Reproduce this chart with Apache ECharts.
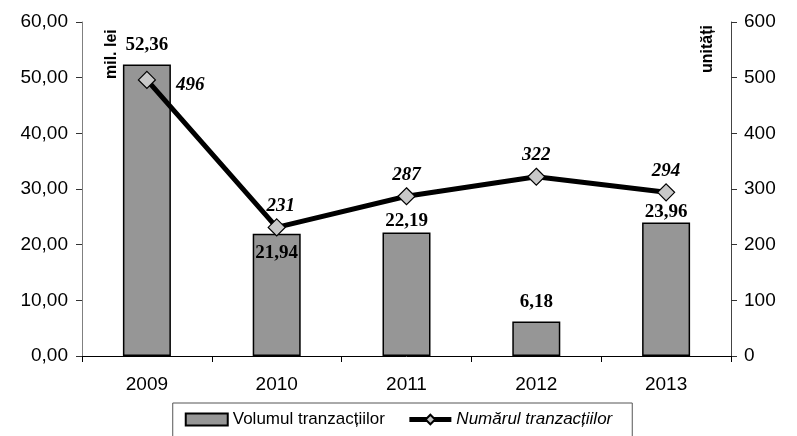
<!DOCTYPE html>
<html>
<head>
<meta charset="utf-8">
<script src="https://cdn.jsdelivr.net/npm/echarts@6/dist/echarts.min.js"></script>
<style>
  html, body { margin: 0; padding: 0; background: #fff; }
  #chart { width: 797px; height: 436px; }
</style>
</head>
<body>
<div id="chart"></div>
<script>
var years = ['2009', '2010', '2011', '2012', '2013'];
var volum = [52.36, 21.94, 22.19, 6.18, 23.96];
var numar = [496, 231, 287, 322, 294];

var fmt = function (v) { return v.toFixed(2).replace('.', ','); };

var chart = echarts.init(document.getElementById('chart'), null, { renderer: 'canvas' });

// pozitia etichetelor, ca in original
var barLabel = [
  { distance: 10 },
  { position: 'insideTop', distance: 10 },
  { distance: 2 },
  { distance: 10 },
  { distance: 1 }
];
var lineLabel = [
  { position: 'right', distance: 20, offset: [0, 5] },
  { offset: [4, 0] },
  {}, {}, {}
];
var volumData = volum.map(function (v, i) { return { value: v, label: barLabel[i] }; });
var numarData = numar.map(function (v, i) { return { value: v, label: lineLabel[i] }; });

chart.setOption({
  animation: false,
  backgroundColor: '#fff',
  grid: { left: 82, right: 66, top: 22, bottom: 80 },
  legend: {
    bottom: -4,
    left: 'center',
    padding: [8, 20, 12, 12],
    itemGap: 22,
    itemWidth: 42,
    itemHeight: 12,
    borderColor: '#555',
    borderWidth: 1,
    borderRadius: 0,
    textStyle: { fontFamily: 'Liberation Sans', fontSize: 17, color: '#000' },
    data: [
      { name: 'Volumul tranzacțiilor', icon: 'rect' },
      { name: 'Numărul tranzacțiilor', textStyle: { fontStyle: 'italic' }, lineStyle: { width: 5 } }
    ]
  },
  xAxis: {
    type: 'category',
    data: years,
    axisLine: { lineStyle: { color: '#000', width: 1 } },
    axisTick: { show: true, length: 6, lineStyle: { color: '#000' } },
    axisLabel: { color: '#000', fontFamily: 'Liberation Sans', fontSize: 19, margin: 19 }
  },
  yAxis: [
    {
      type: 'value', min: 0, max: 60, interval: 10,
      splitLine: { show: false },
      axisLine: { show: true, lineStyle: { color: '#808080' } },
      axisTick: { show: true, length: 6, lineStyle: { color: '#333' } },
      axisLabel: {
        color: '#000', fontFamily: 'Liberation Sans', fontSize: 19, margin: 14,
        formatter: function (v) { return fmt(v); }
      }
    },
    {
      type: 'value', min: 0, max: 600, interval: 100,
      splitLine: { show: false },
      axisLine: { show: true, lineStyle: { color: '#444' } },
      axisTick: { show: true, length: 6, lineStyle: { color: '#333' } },
      axisLabel: { color: '#000', fontFamily: 'Liberation Sans', fontSize: 19, margin: 13 }
    }
  ],
  series: [
    {
      name: 'Volumul tranzacțiilor',
      type: 'bar',
      data: volumData,
      barWidth: 48,
      itemStyle: { color: '#969696', borderColor: '#000', borderWidth: 1.5 },
      label: {
        show: true, position: 'top', distance: 5,
        color: '#000', fontFamily: 'Liberation Serif', fontWeight: 'bold', fontSize: 19,
        formatter: function (p) { return fmt(p.value); }
      },
      z: 2
    },
    {
      name: 'Numărul tranzacțiilor',
      type: 'line',
      yAxisIndex: 1,
      data: numarData,
      symbol: 'diamond',
      symbolSize: [17, 17],
      itemStyle: { color: '#c8c8c8', borderColor: '#000', borderWidth: 1.2 },
      lineStyle: { color: '#000', width: 5 },
      label: {
        show: true, position: 'top', distance: 3,
        color: '#000', fontFamily: 'Liberation Serif', fontWeight: 'bold', fontStyle: 'italic', fontSize: 19
      },
      z: 3
    }
  ],
  graphic: [
    {
      type: 'text', x: 104, y: 79, rotation: Math.PI / 2,
      style: { text: 'mil. lei', fill: '#000', font: 'bold 16px "Liberation Sans"' }
    },
    {
      type: 'text', x: 700, y: 73, rotation: Math.PI / 2,
      style: { text: 'unități', fill: '#000', font: 'bold 16px "Liberation Sans"' }
    }
  ]
});
</script>
</body>
</html>
